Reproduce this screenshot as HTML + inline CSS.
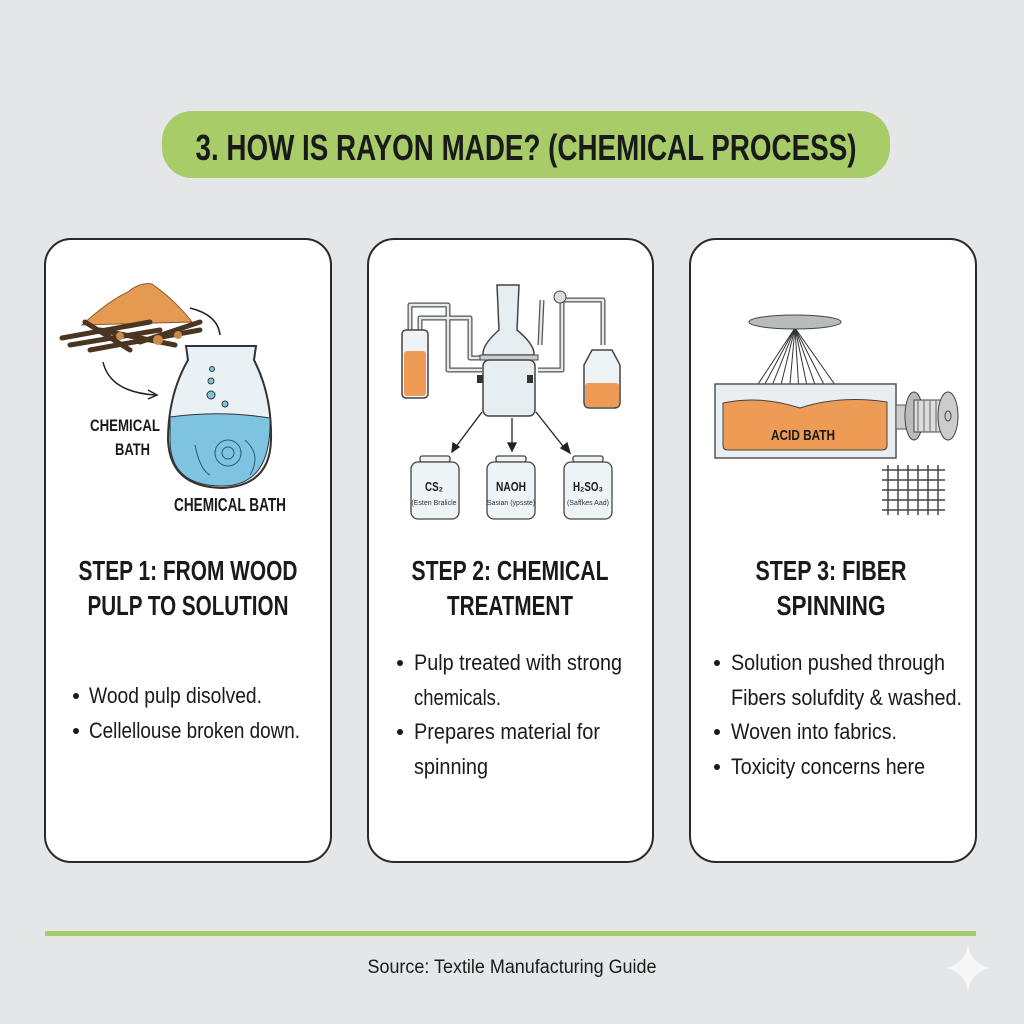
<!DOCTYPE html>
<html><head><meta charset="utf-8"><style>
html,body{margin:0;padding:0;background:#e5e6e7;}
svg{display:block}
.c{font-family:"Liberation Sans Narrow","Liberation Sans",sans-serif;font-weight:bold;fill:#1a1a1a}
.b{font-family:"Liberation Sans Narrow","Liberation Sans",sans-serif;fill:#1a1a1a;font-size:22px}
</style></head><body>
<svg width="1024" height="1024" viewBox="0 0 1024 1024" xmlns="http://www.w3.org/2000/svg">
<rect width="1024" height="1024" fill="#e5e6e7"/>
<rect x="162" y="111" width="728" height="67" rx="30" fill="#a7cc68"/>
<text class="c" x="526" y="160" font-size="36" text-anchor="middle" textLength="661" lengthAdjust="spacingAndGlyphs">3. HOW IS RAYON MADE? (CHEMICAL PROCESS)</text>

<g fill="#fff" stroke="#2a2a2a" stroke-width="2">
<rect x="45" y="239" width="286" height="623" rx="26"/>
<rect x="368" y="239" width="285" height="623" rx="26"/>
<rect x="690" y="239" width="286" height="623" rx="26"/>
</g>

<!-- card1 illustration -->
<path d="M82 325 Q110 300 128 292 Q140 282 152 284 Q175 300 192 322 Z" fill="#e59a52" stroke="#8a5a30" stroke-width="1"/>
<g stroke="#4a3520" stroke-width="5" stroke-linecap="round">
<line x1="62" y1="338" x2="150" y2="322"/><line x1="70" y1="345" x2="160" y2="330"/>
<line x1="90" y1="350" x2="200" y2="330"/><line x1="140" y1="342" x2="200" y2="322"/>
<line x1="100" y1="330" x2="175" y2="345"/><line x1="85" y1="322" x2="130" y2="350"/>
</g>
<g fill="#c98a4a"><circle cx="158" cy="340" r="5"/><circle cx="178" cy="335" r="4"/><circle cx="120" cy="336" r="4"/></g>
<path d="M190 308 Q218 315 220 335" fill="none" stroke="#222" stroke-width="1.5"/>
<path d="M103 362 Q110 392 155 395" fill="none" stroke="#222" stroke-width="1.5"/>
<path d="M148 390 L157 395 L148 399" fill="none" stroke="#222" stroke-width="1.5"/>
<path d="M186 346 L256 346 L254 360 Q272 395 271 440 Q270 486 222 488 Q170 487 168 440 Q168 395 188 360 Z" fill="#eaf1f5" stroke="#333" stroke-width="2"/>
<path d="M170 417 Q220 410 270 418 Q272 486 222 486 Q170 486 170 440 Z" fill="#7ec3e0" stroke="#333" stroke-width="1"/>
<g fill="#7ec3e0" stroke="#333" stroke-width="1"><circle cx="212" cy="369" r="2.5"/><circle cx="211" cy="381" r="3"/><circle cx="211" cy="395" r="4"/><circle cx="225" cy="404" r="3"/></g>
<g fill="none" stroke="#2a5a70" stroke-width="1"><circle cx="228" cy="453" r="6"/><circle cx="228" cy="453" r="13"/><path d="M195 445 Q200 470 210 475"/><path d="M245 440 Q262 455 250 475"/></g>
<text class="c" x="90" y="431" font-size="17" textLength="70" lengthAdjust="spacingAndGlyphs">CHEMICAL</text>
<text class="c" x="115" y="455" font-size="17" textLength="35" lengthAdjust="spacingAndGlyphs">BATH</text>
<text class="c" x="174" y="511" font-size="18" textLength="112" lengthAdjust="spacingAndGlyphs">CHEMICAL BATH</text>

<!-- card2 illustration -->
<g fill="none" stroke="#555" stroke-width="5" stroke-linejoin="round"><path d="M410 330 L410 305 L448 305 L448 370 L482 370"/><path d="M420 330 L420 318 L470 318 L470 358 L484 358"/><path d="M538 370 L562 370 L562 300 L603 300 L603 345"/><path d="M540 345 L542 300"/></g>
<g fill="none" stroke="#e5e9ec" stroke-width="2.5" stroke-linejoin="round"><path d="M410 330 L410 305 L448 305 L448 370 L482 370"/><path d="M420 330 L420 318 L470 318 L470 358 L484 358"/><path d="M538 370 L562 370 L562 300 L603 300 L603 345"/><path d="M540 345 L542 300"/></g>
<circle cx="560" cy="297" r="6" fill="#ddd" stroke="#444"/>
<rect x="402" y="330" width="26" height="68" rx="4" fill="#eef3f6" stroke="#444" stroke-width="1.5"/>
<rect x="404" y="351" width="22" height="45" rx="3" fill="#ee9b55"/>
<path d="M497 285 L519 285 L517 330 Q535 345 534 355 L483 355 Q482 345 499 330 Z" fill="#e7eef2" stroke="#444" stroke-width="1.5"/>
<rect x="480" y="355" width="58" height="5" fill="#ccc" stroke="#444"/>
<rect x="483" y="360" width="52" height="56" rx="6" fill="#e7eef2" stroke="#444" stroke-width="1.5"/>
<rect x="477" y="375" width="6" height="8" fill="#333"/><rect x="527" y="375" width="6" height="8" fill="#333"/>
<path d="M592 350 L612 350 L620 365 L620 402 Q620 408 614 408 L590 408 Q584 408 584 402 L584 365 Z" fill="#eef3f6" stroke="#444" stroke-width="1.5"/>
<rect x="585" y="383" width="34" height="24" rx="3" fill="#ee9b55"/>
<g stroke="#222" stroke-width="1.3" fill="#222"><line x1="482" y1="412" x2="455" y2="448"/><line x1="512" y1="418" x2="512" y2="445"/><line x1="536" y1="412" x2="566" y2="450"/>
<path d="M452 452 L453 443 L459 447Z"/><path d="M512 451 L508 443 L516 443Z"/><path d="M570 453 L561 448 L567 443Z"/></g>
<g fill="#eef3f6" stroke="#444" stroke-width="1.3"><rect x="420" y="456" width="30" height="6" rx="2"/><rect x="411" y="462" width="48" height="57" rx="7"/>
<rect x="496" y="456" width="30" height="6" rx="2"/><rect x="487" y="462" width="48" height="57" rx="7"/>
<rect x="573" y="456" width="30" height="6" rx="2"/><rect x="564" y="462" width="48" height="57" rx="7"/></g>
<text class="c" x="434" y="491" font-size="13" text-anchor="middle" textLength="18" lengthAdjust="spacingAndGlyphs">CS₂</text>
<text class="c" x="511" y="491" font-size="13" text-anchor="middle" textLength="30" lengthAdjust="spacingAndGlyphs">NAOH</text>
<text class="c" x="588" y="491" font-size="13" text-anchor="middle" textLength="30" lengthAdjust="spacingAndGlyphs">H₂SO₃</text>
<g font-family="Liberation Sans Narrow,Liberation Sans,sans-serif" font-size="7" fill="#333" text-anchor="middle"><text x="434" y="505">(Esten Bralicle</text><text x="511" y="505">Sasian (ypsste)</text><text x="588" y="505">(Saffkes Aad)</text></g>

<!-- card3 illustration -->
<g stroke="#333" stroke-width="1">
<line x1="795" y1="328" x2="741" y2="410"/><line x1="795" y1="328" x2="752" y2="408"/><line x1="795" y1="328" x2="764" y2="406"/><line x1="795" y1="328" x2="776" y2="405"/><line x1="795" y1="328" x2="788" y2="406"/><line x1="795" y1="328" x2="800" y2="408"/><line x1="795" y1="328" x2="812" y2="410"/><line x1="795" y1="328" x2="824" y2="410"/><line x1="795" y1="328" x2="836" y2="408"/><line x1="795" y1="328" x2="850" y2="406"/></g>
<ellipse cx="795" cy="322" rx="46" ry="7" fill="#b9bcbd" stroke="#444"/>
<rect x="715" y="384" width="181" height="74" fill="#e8eef2" stroke="#555" stroke-width="1.5"/>
<path d="M723 403 Q760 395 800 408 Q840 395 887 402 L887 446 Q887 450 882 450 L728 450 Q723 450 723 446 Z" fill="#ee9b55" stroke="#444" stroke-width="1"/>
<text class="c" x="771" y="440" font-size="15" textLength="64" lengthAdjust="spacingAndGlyphs">ACID BATH</text>
<rect x="896" y="405" width="12" height="24" fill="#ccc" stroke="#555"/>
<ellipse cx="914" cy="416" rx="9" ry="24" fill="#bbb" stroke="#444"/>
<rect x="914" y="400" width="34" height="32" fill="#ddd" stroke="#444"/>
<g stroke="#777" stroke-width="1.2"><line x1="918" y1="400" x2="918" y2="432"/><line x1="924" y1="400" x2="924" y2="432"/><line x1="930" y1="400" x2="930" y2="432"/><line x1="936" y1="400" x2="936" y2="432"/></g>
<ellipse cx="948" cy="416" rx="10" ry="24" fill="#ccc" stroke="#444"/>
<ellipse cx="948" cy="416" rx="3" ry="5" fill="none" stroke="#444"/>
<g stroke="#444" stroke-width="1.5"><line x1="882" y1="470" x2="945" y2="470"/><line x1="882" y1="480" x2="945" y2="480"/><line x1="882" y1="490" x2="945" y2="490"/><line x1="882" y1="500" x2="945" y2="500"/><line x1="882" y1="510" x2="945" y2="510"/>
<line x1="888" y1="465" x2="888" y2="515"/><line x1="898" y1="465" x2="898" y2="515"/><line x1="908" y1="465" x2="908" y2="515"/><line x1="918" y1="465" x2="918" y2="515"/><line x1="928" y1="465" x2="928" y2="515"/><line x1="938" y1="465" x2="938" y2="515"/></g>

<!-- step titles -->
<text class="c" x="188" y="580" font-size="28" text-anchor="middle" textLength="219" lengthAdjust="spacingAndGlyphs">STEP 1: FROM WOOD</text>
<text class="c" x="188" y="615" font-size="28" text-anchor="middle" textLength="201" lengthAdjust="spacingAndGlyphs">PULP TO SOLUTION</text>
<text class="c" x="510" y="580" font-size="28" text-anchor="middle" textLength="197" lengthAdjust="spacingAndGlyphs">STEP 2: CHEMICAL</text>
<text class="c" x="510" y="615" font-size="28" text-anchor="middle" textLength="126" lengthAdjust="spacingAndGlyphs">TREATMENT</text>
<text class="c" x="831" y="580" font-size="28" text-anchor="middle" textLength="151" lengthAdjust="spacingAndGlyphs">STEP 3: FIBER</text>
<text class="c" x="831" y="615" font-size="28" text-anchor="middle" textLength="109" lengthAdjust="spacingAndGlyphs">SPINNING</text>

<!-- bullets -->
<g fill="#1a1a1a"><circle cx="76" cy="696" r="3"/><circle cx="76" cy="731" r="3"/>
<circle cx="400" cy="663" r="3"/><circle cx="400" cy="732" r="3"/>
<circle cx="717" cy="663" r="3"/><circle cx="717" cy="732" r="3"/><circle cx="717" cy="767" r="3"/></g>
<text class="b" x="89" y="703" textLength="173" lengthAdjust="spacingAndGlyphs">Wood pulp disolved.</text>
<text class="b" x="89" y="738" textLength="211" lengthAdjust="spacingAndGlyphs">Cellellouse broken down.</text>
<text class="b" x="414" y="670" textLength="208" lengthAdjust="spacingAndGlyphs">Pulp treated with strong</text>
<text class="b" x="414" y="705" textLength="87" lengthAdjust="spacingAndGlyphs">chemicals.</text>
<text class="b" x="414" y="739" textLength="186" lengthAdjust="spacingAndGlyphs">Prepares material for</text>
<text class="b" x="414" y="774" textLength="74" lengthAdjust="spacingAndGlyphs">spinning</text>
<text class="b" x="731" y="670" textLength="214" lengthAdjust="spacingAndGlyphs">Solution pushed through</text>
<text class="b" x="731" y="705" textLength="231" lengthAdjust="spacingAndGlyphs">Fibers solufdity &amp; washed.</text>
<text class="b" x="731" y="739" textLength="166" lengthAdjust="spacingAndGlyphs">Woven into fabrics.</text>
<text class="b" x="731" y="774" textLength="194" lengthAdjust="spacingAndGlyphs">Toxicity concerns here</text>

<rect x="45" y="931" width="931" height="5" fill="#a7cc68"/>
<text class="b" x="512" y="973" text-anchor="middle" textLength="289" lengthAdjust="spacingAndGlyphs" style="font-size:19px">Source: Textile Manufacturing Guide</text>
<path d="M968 944 Q971 965 992 968 Q971 971 968 992 Q965 971 944 968 Q965 965 968 944Z" fill="#f7f7f7"/>
</svg>
</body></html>
